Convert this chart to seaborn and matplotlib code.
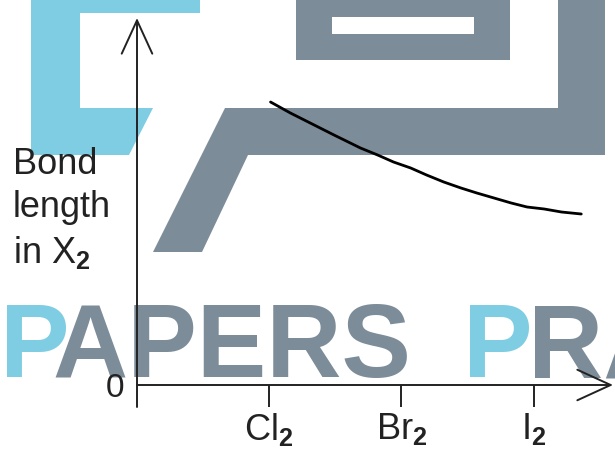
import numpy as np
import pandas as pd
import seaborn as sns
import matplotlib.pyplot as plt
from matplotlib.patches import Polygon, Rectangle

# data (x: 1 = Cl2, 2 = Br2, 3 = I2)
tick_pos = [1, 2, 3]
tick_labels = ['$\\mathrm{Cl}_\\mathbf{2}$', '$\\mathrm{Br}_\\mathbf{2}$', '$\\mathrm{I}_\\mathbf{2}$']
curve_x = [1.01, 1.16, 1.31, 1.49, 1.69, 1.82, 1.94, 2.07, 2.19,
           2.32, 2.45, 2.57, 2.70, 2.83, 2.95, 3.08, 3.21, 3.36]
curve_y = [283, 272, 262, 250, 237, 230, 223, 217, 210,
           203, 197, 192, 187, 182, 178, 176, 173, 171]

sns.set_style('white')
plt.rcParams['font.family'] = ['Liberation Sans', 'DejaVu Sans']
plt.rcParams['mathtext.fontset'] = 'custom'
plt.rcParams['mathtext.rm'] = 'Liberation Sans'
plt.rcParams['mathtext.it'] = 'Liberation Sans'
plt.rcParams['mathtext.bf'] = 'Liberation Sans:bold'

blue = '#7ecde2'
grey = '#7d8c99'
ink = '#222222'

fig = plt.figure(figsize=(6.15, 4.55), dpi=100)

# watermark layer behind the chart, in pixel coords
bg = fig.add_axes([0, 0, 1, 1], zorder=-1)
bg.set_xlim(0, 615)
bg.set_ylim(455, 0)
bg.axis('off')
bg.add_patch(Polygon([(31, 0), (200, 0), (200, 13), (80, 13), (80, 108), (153, 108),
                      (129, 155), (31, 155)], closed=True, color=blue, lw=0))
bg.add_patch(Rectangle((296, -5), 214, 65, color=grey, lw=0))
bg.add_patch(Rectangle((332, 17), 142, 17, color='white', lw=0))
bg.add_patch(Polygon([(558, -5), (605, -5), (605, 155), (248, 155), (202, 252), (153, 252),
                      (225, 108), (558, 108)], closed=True, color=grey, lw=0))
wm = dict(fontsize=75, fontweight='bold', va='baseline', ha='left')
bg.text(0, 377, 'P', color=blue, **wm)
bg.text(52, 377, 'APERS', color=grey, **wm)
bg.text(463, 377, 'P', color=blue, **wm)
bg.text(528, 377, 'RA', color=grey, **wm)

# y axis label
bg.text(13, 147, 'Bond\nlength\nin $\\mathrm{X}_\\mathbf{2}$', fontsize=26, color=ink,
        ha='left', va='top', linespacing=1.3)

# main chart
ax = fig.add_axes([137 / 615, 70 / 455, 476 / 615, 367 / 455], zorder=1)
ax.patch.set_visible(False)
ax.set_xlim(0, 3.6)
ax.set_ylim(0, 367)
for s in ax.spines.values():
    s.set_visible(False)

sns.lineplot(x=curve_x, y=curve_y, ax=ax, color='black', linewidth=2.0)

arrow = dict(arrowstyle='->,head_length=2.4,head_width=1.1', lw=1.4, color=ink,
             shrinkA=0, shrinkB=0)
ax.annotate('', xy=(0, 367), xytext=(0, -22), arrowprops=arrow, annotation_clip=False)
ax.annotate('', xy=(3.6, 0), xytext=(0, 0), arrowprops=arrow, annotation_clip=False)

ax.set_xticks(tick_pos)
ax.set_xticklabels(tick_labels, fontsize=26, color=ink)
ax.tick_params(axis='x', direction='out', length=16, width=1.4, color=ink, pad=3, bottom=True)
ax.set_yticks([0])
ax.set_yticklabels(['0'], fontsize=24, color=ink)
ax.tick_params(axis='y', length=0, pad=9)
ax.set_xlabel('')
ax.set_ylabel('')

fig.savefig('out.png', dpi=100)
